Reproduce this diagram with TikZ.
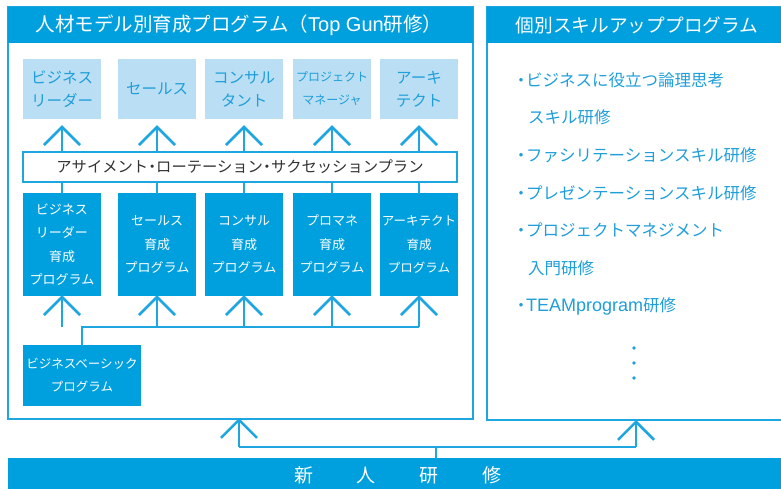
\documentclass[tikz,border=0pt]{standalone}
\usepackage{fontspec}
\setmainfont{Noto Sans CJK JP}
\newfontfamily\latinsans{Liberation Sans}
\usetikzlibrary{arrows.meta}
\definecolor{dk}{RGB}{0,160,222}
\definecolor{lt}{RGB}{186,222,243}
\definecolor{ln}{RGB}{30,166,224}
\definecolor{tb}{RGB}{30,158,218}
\definecolor{tg}{RGB}{50,50,50}
\newcommand{\nbul}[1]{\makebox[#1]{・}}
\begin{document}
\begin{tikzpicture}[x=1pt,y=-1pt,
  frame/.style={draw=ln, line width=2pt, inner sep=0pt},
  hdr/.style={fill=dk, inner sep=0pt, text=white},
  ltbox/.style={fill=lt, inner sep=0pt, minimum width=78pt, minimum height=60pt, text=tb, align=center, font=\fontsize{15.5}{23}\selectfont},
  dkbox/.style={fill=dk, inner sep=0pt, minimum width=78pt, minimum height=103pt, text=white, align=center, font=\fontsize{13}{23.5}\selectfont},
  conn/.style={draw=ln, line width=2.6pt},
  arr/.style={conn, -{Straight Barb[length=18pt, width=36pt]}},
  item/.style={anchor=west, inner sep=0pt, text=tb, font=\fontsize{16.5}{20}\selectfont}]
\useasboundingbox (0,0) rectangle (781,488);
\begin{scope}
\clip (0,0) rectangle (781,488);
% frames
\node[frame, minimum width=465pt, minimum height=412pt] (leftframe) at (240.5,213) {};
\node[hdr, minimum width=465pt, minimum height=36pt] (lefthdr) at (240.5,25) {};
\node[text=white, inner sep=0pt, font=\fontsize{19.5}{20}\selectfont] (lefttxt) at (239,25) {人材モデル別育成プログラム（{\latinsans\fontsize{20}{20}\selectfont Top Gun}研修）};
\node[frame, minimum width=313pt, minimum height=413pt] (rightframe) at (643.5,213.5) {};
\node[hdr, minimum width=313pt, minimum height=36pt] (righthdr) at (643.5,25) {};
\node[text=white, inner sep=0pt, font=\fontsize{18.7}{20}\selectfont] (rightttl) at (637,25) {個別スキルアッププログラム};
% band
\node[hdr, minimum width=792pt, minimum height=32pt] (band) at (404,474) {};
\node[text=white, inner sep=0pt, font=\fontsize{19}{20}\selectfont] (bandtxt) at (398,475) {新\hspace{44pt}人\hspace{44pt}研\hspace{44pt}修};
\end{scope}
% top boxes
\node[ltbox] (T1) at (62,89) {ビジネス\\リーダー};
\node[ltbox] (T2) at (157,89) {セールス};
\node[ltbox] (T3) at (244,89) {コンサル\\タント};
\node[ltbox, font=\fontsize{12}{23}\selectfont] (T4) at (332,89) {プロジェクト\\マネージャ};
\node[ltbox] (T5) at (419,89) {アーキ\\テクト};
% plan
\node[draw=ln, line width=2pt, fill=white, inner sep=0pt, minimum width=434pt, minimum height=30pt, text=tg, font=\fontsize{15.3}{16}\selectfont] (plan) at (240,167) {アサイメント\nbul{8pt}ローテーション\nbul{8pt}サクセッションプラン};
% dark boxes
\node[dkbox] (D1) at (62,244.5) {ビジネス\\リーダー\\育成\\プログラム};
\node[dkbox] (D2) at (157,244.5) {セールス\\育成\\プログラム};
\node[dkbox] (D3) at (244,244.5) {コンサル\\育成\\プログラム};
\node[dkbox] (D4) at (332,244.5) {プロマネ\\育成\\プログラム};
\node[dkbox, font=\fontsize{12.5}{23.5}\selectfont] (D5) at (419,244.5) {アーキテクト\\育成\\プログラム};
\node[fill=dk, inner sep=0pt, minimum width=118pt, minimum height=61pt, text=white, align=center, font=\fontsize{12.5}{23}\selectfont] (B) at (82,375.5) {ビジネスベーシック\\プログラム};
% connectors: plan -> top boxes
\foreach \i in {1,...,5}{
  \draw[arr, shorten >=6pt] (T\i.south |- plan.north) -- (T\i.south);
  \draw[conn] (D\i.north) -- (D\i.north |- plan.south);
}
\coordinate (hj) at (62,327);
\draw[conn] (B.north) -- (B.north |- hj) -- (D5.south |- hj);
\foreach \i in {1,...,5}{
  \draw[arr, shorten >=-1pt] (D\i.south |- hj) -- (D\i.south);
}
% bottom connectors
\coordinate (bj) at (436,447);
\coordinate (bl) at (239,447);
\coordinate (br) at (636,447);
\draw[conn] (band.north -| bj) -- (bj);
\draw[conn] (bl) -- (br);
\draw[arr, shorten >=-2pt] (bl) -- (bl |- leftframe.south);
\draw[arr, shorten >=-1pt] (br) -- (br |- rightframe.south);
% right list
\node[item] (r1) at (516,80) {\nbul{10pt}ビジネスに役立つ論理思考};
\node[item] (r2) at (528,117) {スキル研修};
\node[item] (r3) at (516,155) {\nbul{10pt}ファシリテーションスキル研修};
\node[item] (r4) at (516,193) {\nbul{10pt}プレゼンテーションスキル研修};
\node[item] (r5) at (516,230) {\nbul{10pt}プロジェクトマネジメント};
\node[item] (r6) at (528,268) {入門研修};
\node[item] (r7) at (516,306) {\nbul{10pt}{\latinsans\fontsize{18}{20}\selectfont TEAMprogram}研修};
\foreach \yy in {348,363,378}{
  \fill[tb] (634,\yy) circle (1.8pt);
}
\end{tikzpicture}
\end{document}
